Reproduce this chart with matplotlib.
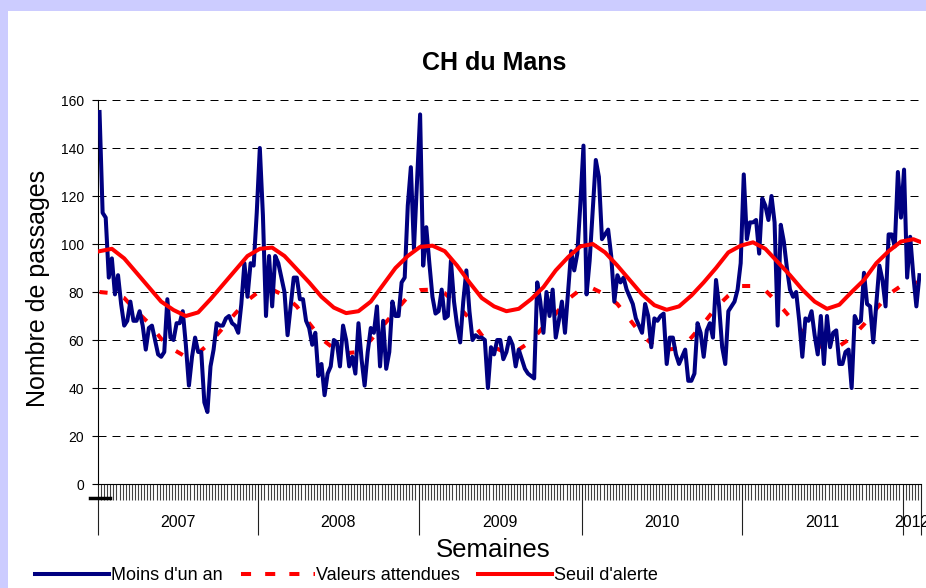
import matplotlib
matplotlib.use('Agg')
import matplotlib.pyplot as plt
from matplotlib.lines import Line2D
from matplotlib.patches import Rectangle

plt.rcParams['font.family'] = ['Liberation Sans', 'DejaVu Sans']

# categories : semaines par année
years = ['2007', '2008', '2009', '2010', '2011', '2012']
weeks_per_year = [52, 52, 53, 52, 52, 6]

# Moins d'un an (passages hebdomadaires)
moins_2007 = [155, 113, 111, 86, 94, 79, 87, 75, 66, 68, 76, 68, 68, 72, 66, 56,
              65, 66, 60, 54, 53, 55, 77, 61, 60, 67, 67, 72, 58, 41, 53, 61,
              55, 55, 34, 30, 49, 56, 67, 66, 66, 69, 70, 67, 66, 63, 75, 92,
              78, 92, 91, 113]
moins_2008 = [140, 112, 70, 95, 74, 95, 92, 86, 80, 62, 74, 86, 86, 77, 77, 68,
              65, 58, 63, 45, 50, 37, 46, 49, 60, 59, 49, 66, 60, 49, 53, 46,
              67, 52, 41, 55, 65, 63, 74, 49, 68, 48, 55, 76, 70, 70, 84, 86,
              116, 132, 98, 126]
moins_2009 = [154, 91, 107, 92, 78, 71, 72, 81, 69, 70, 93, 76, 66, 59, 76, 89,
              72, 60, 62, 61, 61, 60, 40, 57, 54, 60, 60, 52, 55, 61, 58, 49,
              56, 52, 48, 46, 45, 44, 84, 76, 63, 80, 70, 81, 61, 68, 76, 63,
              80, 97, 89, 96, 117]
moins_2010 = [141, 79, 93, 114, 135, 128, 102, 104, 106, 95, 76, 87, 84, 86, 81, 78,
              75, 69, 66, 63, 75, 70, 57, 69, 68, 70, 71, 50, 61, 61, 54, 50,
              53, 56, 43, 43, 46, 67, 63, 53, 64, 67, 61, 85, 74, 57, 50, 72,
              74, 76, 81, 92]
moins_2011 = [129, 102, 109, 109, 110, 96, 119, 116, 110, 120, 109, 66, 108, 101, 90, 81,
              78, 80, 68, 53, 69, 68, 72, 62, 54, 70, 50, 70, 57, 63, 64, 50,
              50, 55, 56, 40, 70, 67, 68, 88, 75, 74, 59, 75, 91, 85, 74, 104,
              104, 99, 130, 111]
moins_2012 = [131, 86, 103, 87, 74, 87]
moins_un_an = moins_2007 + moins_2008 + moins_2009 + moins_2010 + moins_2011 + moins_2012

# Valeurs attendues et seuil d'alerte, relevés toutes les 4 semaines
weeks_ref = list(range(0, 265, 4)) + [266]
attendues = [80, 79.5, 77.5, 72, 67, 60.5, 56, 53, 54.5, 59, 65, 71, 76.5, 80.5, 81, 78.5,
             74, 67, 60.5, 56.5, 54.5, 55, 60, 66, 72, 78, 80.8, 81, 79.5, 74.5, 69, 62,
             57, 54.5, 56, 59.5, 65.5, 71, 77, 81, 81.5, 79, 75, 68.5, 62, 57.5, 56, 56.5,
             61, 67, 73.5, 78.5, 82.5, 82.5, 80.7, 75.5, 69.5, 63.5, 58.5, 56, 57.5, 61,
             66.5, 73, 79, 82.5, 83.8, 84]
seuil = [97, 98, 94, 88, 82, 76, 72.5, 70, 71.5, 77, 83, 89, 95, 98, 98.5, 95,
         89.5, 84, 78, 73.5, 71.2, 72, 76, 83, 90, 95, 98.8, 99.3, 97, 91, 84, 77.5,
         74, 72, 73, 77, 82, 89, 94.5, 99, 100, 96.5, 91, 85, 79, 74.5, 72.6, 74,
         78.5, 84, 90, 96.5, 99.3, 100.7, 98, 92.5, 87, 81, 76, 73, 74.7, 80,
         85, 92, 97, 101, 102, 101]

W, H = 926, 588
fig = plt.figure(figsize=(W / 100, H / 100), dpi=100, facecolor='#CCCCFF')
fig.patches.append(Rectangle((8 / W, 0), 1, 1 - 11 / H, transform=fig.transFigure,
                             facecolor='white', edgecolor='none', zorder=-5))

ax = fig.add_axes([98 / W, 1 - 484 / H, (921 - 98) / W, 384 / H])
ax.set_facecolor('none')
ax.set_zorder(2)

weeks = list(range(len(moins_un_an)))
ax.plot(weeks_ref, attendues, color='#FF0000', lw=2.9, zorder=3,
        linestyle=(0, (2.0, 4.2)))
ax.plot(weeks, moins_un_an, color='#000080', lw=2.9, zorder=4, solid_joinstyle='round')
ax.plot(weeks_ref, seuil, color='#FF0000', lw=2.9, zorder=5)

n = len(moins_un_an)
ax.set_xlim(-0.5, n - 0.5)
ax.set_ylim(0, 160)

for v in range(20, 161, 20):
    ax.axhline(v, color='black', lw=0.72, linestyle=(0, (8, 6)), zorder=1)

for s in ['top', 'right']:
    ax.spines[s].set_visible(False)
ax.spines['left'].set_linewidth(0.8)
ax.spines['bottom'].set_linewidth(0.8)

ax.set_yticks(range(0, 161, 20))
ax.tick_params(axis='y', length=4, width=0.8, labelsize=10, pad=6)

# limites des années (grands traits) et des semaines (petits traits)
bounds = [-0.5]
for w in weeks_per_year:
    bounds.append(bounds[-1] + w)
ax.set_xticks(bounds)
ax.set_xticklabels([])
ax.set_xticks([k - 0.5 for k in range(n + 1)], minor=True)
ax.tick_params(axis='x', which='major', length=37, width=0.8, color='#202020')
ax.tick_params(axis='x', which='minor', length=11.5, width=0.8, color='#404040')

for i, y in enumerate(years):
    c = (bounds[i] + bounds[i + 1]) / 2
    ax.text(c, -0.099, y, transform=ax.get_xaxis_transform(), ha='center',
            va='center', fontsize=11.5, clip_on=False)

fig.add_artist(Line2D([90 / W, 110 / W], [1 - 498 / H, 1 - 498 / H], color='black',
                      lw=2.5, transform=fig.transFigure, zorder=5))

fig.text(494 / W, 1 - 63 / H, 'CH du Mans', ha='center', va='center',
         fontsize=18, fontweight='bold')
fig.text(493 / W, 1 - 550 / H, 'Semaines', ha='center', va='center', fontsize=18.5)
fig.text(38 / W, 1 - 288 / H, 'Nombre de passages', ha='center', va='center',
         fontsize=18, rotation=90)

handles = [Line2D([], [], color='#000080', lw=2.9),
           Line2D([], [], color='#FF0000', lw=2.9, linestyle=(0, (2.5, 3.5))),
           Line2D([], [], color='#FF0000', lw=2.9)]
fig.legend(handles, ["Moins d'un an", 'Valeurs attendues', "Seuil d'alerte"],
           loc='center left', bbox_to_anchor=(35 / W, 1 - 576 / H), ncol=3,
           frameon=False, fontsize=13, handlelength=4.1, handletextpad=0.1,
           columnspacing=1.0, borderpad=0, borderaxespad=0)

fig.savefig('out.png', dpi=100, facecolor=fig.get_facecolor())
